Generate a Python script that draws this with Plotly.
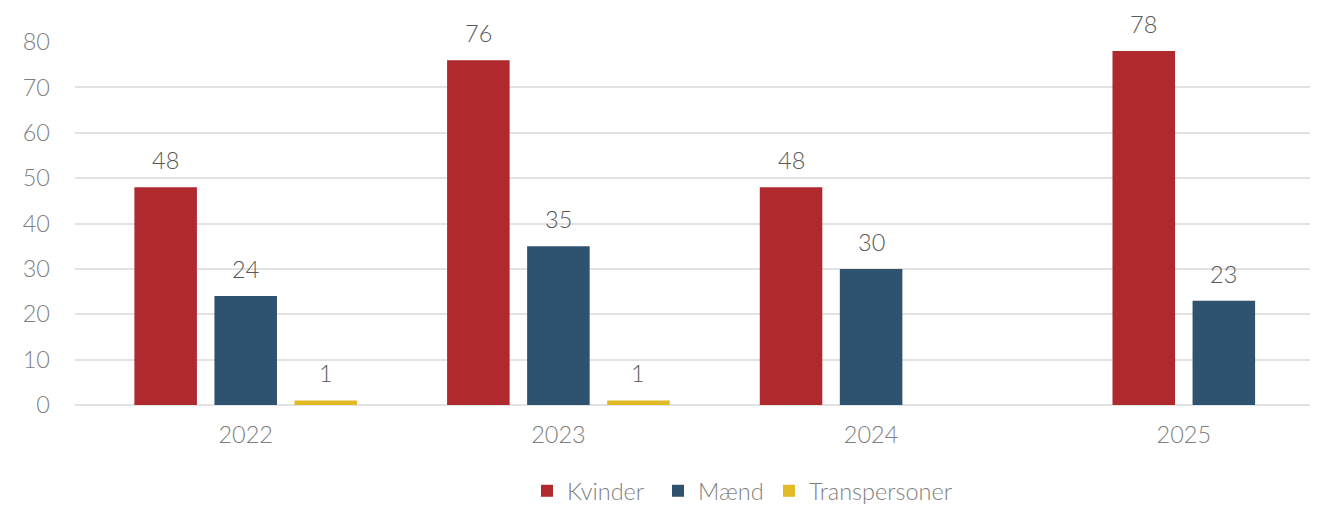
import plotly.graph_objects as go

years = ["2022", "2023", "2024", "2025"]
series_names = ["Kvinder", "Mænd", "Transpersoner"]
kvinder = [48, 76, 48, 78]
maend = [24, 35, 30, 23]
transpersoner = [1, 1, 0, None]
colors = ["#B0292E", "#2F526E", "#E2B927"]

series_values = [kvinder, maend, transpersoner]

FONT = "Lato"
FS = 23.5
WEIGHT = 300
BAR_W = 0.2
SLOT = 0.256

# the page places the figure 8px in from the top-left corner
PAGE_OFF = 8
W, H = 1318 - PAGE_OFF, 505 - PAGE_OFF

fig = go.Figure()
annotations = []

# centre the bars that exist in each year
offsets = {k: [] for k in range(len(series_names))}
for i in range(len(years)):
    present = [k for k in range(len(series_names)) if series_values[k][i] is not None]
    n = len(present)
    for k in range(len(series_names)):
        if k in present:
            pos = present.index(k)
            c = (pos - (n - 1) / 2) * SLOT
        else:
            c = 0
        offsets[k].append(c - BAR_W / 2)
        v = series_values[k][i]
        if v:
            annotations.append(dict(
                x=i + c, y=v, xref="x", yref="y", text=str(v), showarrow=False,
                yanchor="bottom", yshift=11,
                font=dict(family=FONT, size=FS, color="#595959", weight=WEIGHT)))

legend_ids = ["legend", "legend2", "legend3"]
for k, name in enumerate(series_names):
    fig.add_trace(go.Bar(
        x=years, y=series_values[k], name=name, legend=legend_ids[k],
        marker=dict(color=colors[k], line=dict(width=0)),
        width=BAR_W, offset=offsets[k], hoverinfo="skip"))

left, right = 75 - PAGE_OFF, 1318 - PAGE_OFF
top, bottom = 42 - PAGE_OFF, 405 - PAGE_OFF
c0, step = 245.7 - PAGE_OFF, 312.7
x_lo = -(c0 - left) / step
x_hi = (right - c0) / step

tickfont = dict(family=FONT, size=FS, color="#7F7F7F", weight=WEIGHT)

legend_left_px = [527, 658, 769]
legends = {}
for lid, lx in zip(legend_ids, legend_left_px):
    legends[lid] = dict(orientation="h", xref="container", x=(lx - PAGE_OFF) / W,
                        xanchor="left", yref="container",
                        y=1 - (491 - PAGE_OFF) / H, yanchor="middle",
                        font=tickfont, itemclick=False, bgcolor="rgba(0,0,0,0)")

fig.update_layout(
    width=W, height=H,
    margin=dict(l=left, r=W - right, t=top, b=H - bottom, autoexpand=False),
    plot_bgcolor="white", paper_bgcolor="white",
    font=dict(family=FONT, size=FS, color="#7F7F7F", weight=WEIGHT),
    barmode="group",
    showlegend=True,
    annotations=annotations,
    xaxis=dict(type="category", range=[x_lo, x_hi], showgrid=False,
               showline=False, ticks="", zeroline=False, automargin=False,
               tickfont=tickfont, ticklabelstandoff=13),
    yaxis=dict(range=[0, 80], dtick=10, showgrid=True, gridcolor="#E3E3E3",
               gridwidth=2, zeroline=True, zerolinecolor="#E3E3E3", zerolinewidth=2,
               showline=False, ticks="", automargin=False,
               tickfont=tickfont, ticklabelstandoff=24),
    **legends,
)

fig.write_html("out.html")
